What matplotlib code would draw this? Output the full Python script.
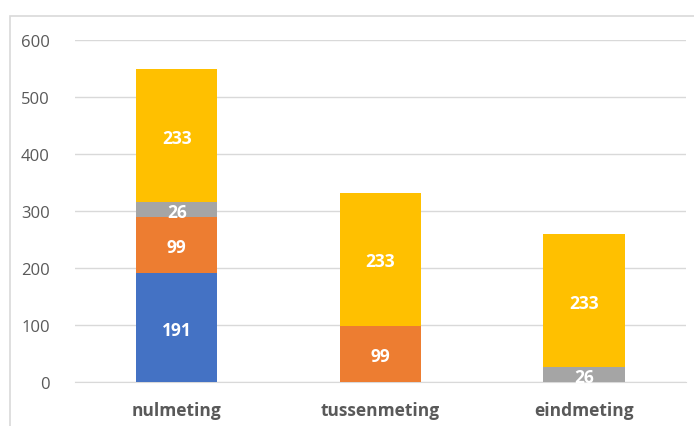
import numpy as np
import matplotlib.pyplot as plt
from matplotlib.patches import Rectangle

categories = ['nulmeting', 'tussenmeting', 'eindmeting']
blue_vals = [191, 0, 0]
orange_vals = [99, 99, 0]
gray_vals = [26, 0, 26]
yellow_vals = [233, 233, 233]

series = [blue_vals, orange_vals, gray_vals, yellow_vals]
colors = ['#4472C4', '#ED7D31', '#A5A5A5', '#FFC000']

plt.rcParams['font.family'] = ['Open Sans', 'DejaVu Sans']

fig = plt.figure(figsize=(6.94, 4.27), dpi=100)
ax = fig.add_axes([0.108, 0.103, 0.88, 0.801])

x = np.arange(len(categories))
bottom = np.zeros(len(categories))
for vals, c in zip(series, colors):
    vals = np.array(vals, dtype=float)
    ax.bar(x, vals, 0.4, bottom=bottom, color=c, zorder=3)
    for xi, b, v in zip(x, bottom, vals):
        if v > 0:
            ax.text(xi, b + v / 2 - 4, f'{int(v)}', ha='center', va='center',
                    color='white', fontsize=12.5, fontweight='bold', zorder=4)
    bottom += vals

ax.set_xlim(-0.5, 2.5)
ax.set_ylim(0, 600)
ax.set_yticks(range(0, 601, 100))
ax.yaxis.grid(True, color='#D9D9D9', linewidth=1, zorder=0)
ax.set_xticks(x)
ax.set_xticklabels(categories, fontsize=12.5, fontweight='bold', color='#595959')
ax.tick_params(axis='y', labelsize=12, labelcolor='#595959', length=0, pad=18)
ax.tick_params(axis='x', length=0, pad=14)
for s in ['top', 'right', 'left']:
    ax.spines[s].set_visible(False)
ax.spines['bottom'].set_color('#D9D9D9')

fig.patches.append(Rectangle((0.014, -0.1), 1.2, 1.06, transform=fig.transFigure,
                             fill=False, edgecolor='#D9D9D9', linewidth=1.2))

fig.savefig('out.png', dpi=100)
